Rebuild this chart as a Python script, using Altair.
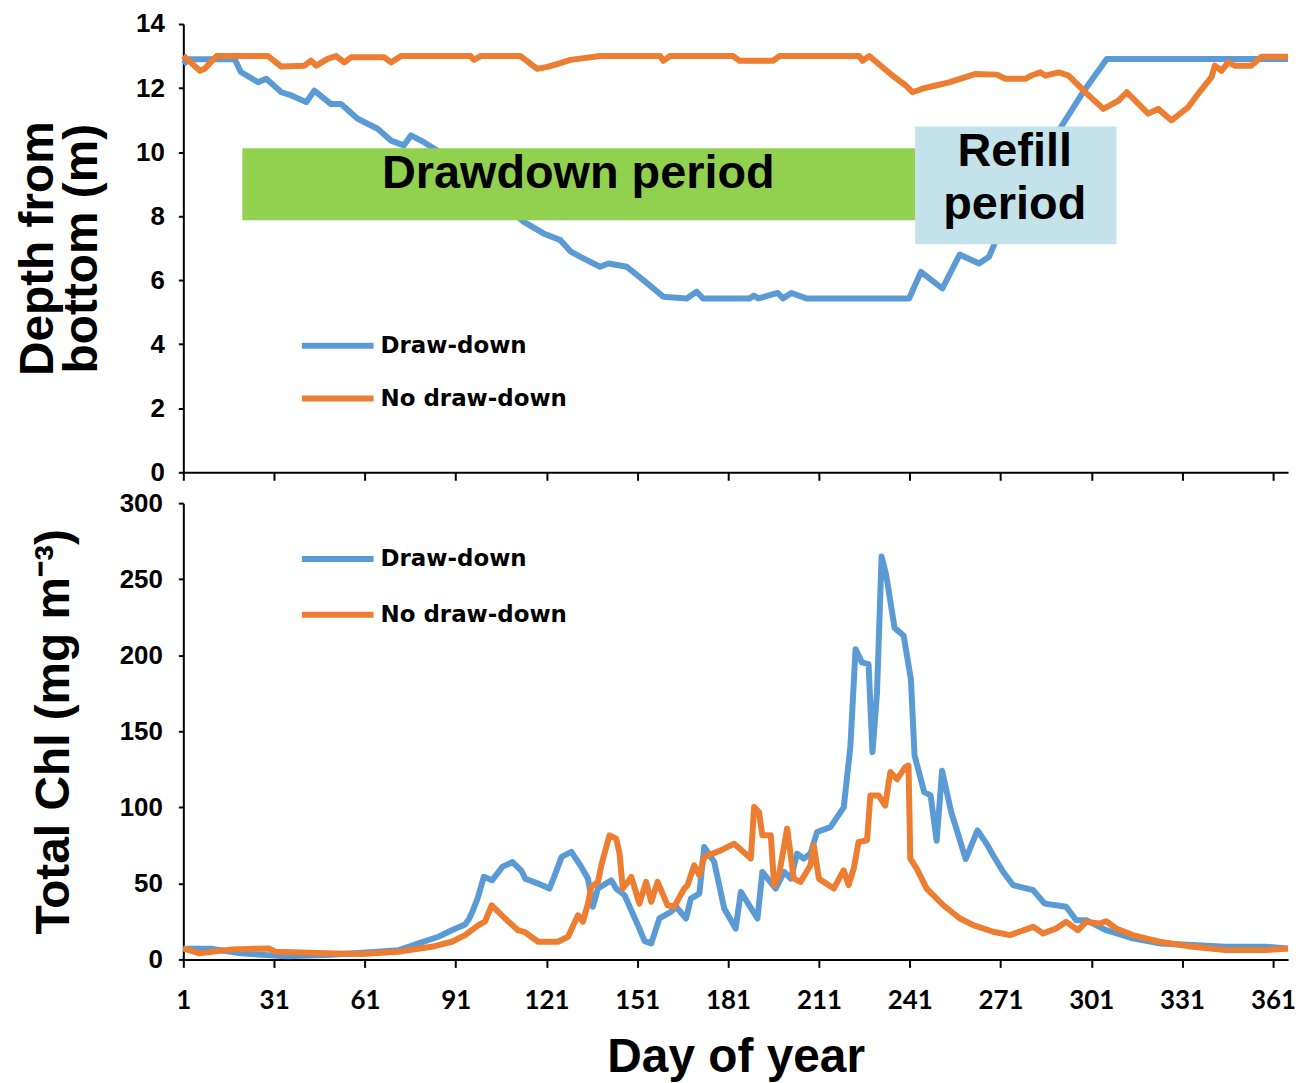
import altair as alt
import pandas as pd

SERIES = ["Draw-down", "No draw-down"]
COLORS = ["#5B9BD5", "#ED7D31"]
X_TICKS = [1, 31, 61, 91, 121, 151, 181, 211, 241, 271, 301, 331, 361]

# ---- Depth from bottom (m) ----
depth_dd_day = [1, 3, 18, 20, 25.7, 28.4, 33.4, 36.7, 41.6, 44.3, 49.8, 53.1, 58.6, 65.2, 69.6, 73.9,
                76.2, 80.5, 84.9, 92, 100, 107, 113.5, 120, 125.6, 128.9, 132.2, 138.7, 141.5, 147.5,
                153, 159.6, 167.3, 170.6, 172.7, 188.1, 189.5, 191, 197.4, 199.1, 201.9, 206.8, 240.8,
                244.7, 251.8, 257.5, 263.9, 267.2, 270.5, 277, 284, 291.3, 297.9, 306.1, 366]
depth_dd = [12.75, 12.9, 12.9, 12.5, 12.18, 12.29, 11.87, 11.77, 11.56, 11.92, 11.5, 11.5, 11.04, 10.73,
            10.36, 10.21, 10.52, 10.31, 10.05, 9.6, 9.0, 8.35, 7.82, 7.46, 7.25, 6.9, 6.73, 6.42, 6.52,
            6.42, 6.0, 5.48, 5.43, 5.64, 5.43, 5.43, 5.52, 5.43, 5.6, 5.43, 5.6, 5.43, 5.43,
            6.26, 5.74, 6.8, 6.52, 6.73, 7.47, 8.5, 9.7, 10.83, 11.82, 12.91, 12.91]

depth_nd_day = [1, 6.5, 8, 12, 29, 33.4, 41, 43.2, 44.9, 48.7, 51.5, 54.2, 56.4, 67.4, 69.6, 72.9, 95.9,
                97, 99.2, 112.4, 117.9, 121.2, 124.5, 128.9, 138.7, 158.5, 159.6, 161.8, 182.6, 184.8,
                195.8, 198, 224.3, 225.4, 227.6, 235.3, 239.7, 241.9, 245.2, 249.6, 254, 262.8, 269.8,
                272.6, 279.2, 281.4, 284.2, 285.8, 290.2, 293.5, 299, 305, 310, 312.7, 319.8, 323.1,
                327.5, 333, 336.3, 340.7, 341.8, 344, 346.2, 348.4, 353.9, 357.2, 366]
depth_nd = [13.01, 12.54, 12.6, 13.0, 13.0, 12.67, 12.7, 12.86, 12.7, 12.91, 13.0, 12.8, 12.96, 12.96,
            12.8, 13.0, 13.0, 12.88, 13.0, 13.0, 12.6, 12.66, 12.75, 12.88, 13.0, 13.0, 12.85, 13.0,
            13.0, 12.85, 12.85, 13.0, 13.0, 12.85, 13.0, 12.39, 12.08, 11.87, 11.98, 12.08, 12.18,
            12.44, 12.42, 12.29, 12.29, 12.4, 12.49, 12.39, 12.49, 12.39, 11.87, 11.35, 11.61, 11.87,
            11.2, 11.35, 10.99, 11.4, 11.82, 12.34, 12.7, 12.54, 12.8, 12.7, 12.7, 12.98, 12.98]

# ---- Total Chl (mg m-3) ----
chl_dd_day = [1, 10, 20, 35, 50, 65, 72, 78.7, 85.3, 89.7, 94.1, 95.5, 96.5, 98.2, 100.3, 103, 106.5,
              109.8, 112.8, 114, 118, 122, 123.7, 126, 129.2, 132.5, 134.7, 136.3, 138, 142.4, 144,
              146.8, 151.2, 153.4, 155.6, 158.3, 162.1, 163.8, 167.1, 168.7, 171.5, 173.1, 176.4,
              179.7, 183.5, 185.2, 190.7, 192.3, 196.7, 199.5, 201.7, 203.8, 206, 208.2, 210.4, 214.8,
              219.2, 221.4, 223.1, 225.2, 227.4, 228.7, 230.2, 231.7, 233.2, 236, 239, 241.4, 242.6,
              245.8, 247.9, 249.9, 251.7, 254.7, 259.5, 263.4, 266.4, 268.6, 271.9, 275.2, 281.8,
              285.6, 292.7, 296, 299.3, 305.9, 314.7, 323.5, 334.5, 345.4, 358.6, 366]
chl_dd = [7, 7, 4, 2, 3, 5, 6, 10.5, 14.9, 19.2, 23, 27, 31.3, 40, 54.3, 52, 61, 64, 58, 53, 50, 46.6,
          55.3, 67.4, 70.7, 60.8, 53.1, 34.6, 46.6, 52, 46.6, 42.2, 22.5, 12, 10.5, 27, 31.3, 34.6,
          26.9, 40, 43.3, 73.9, 64.1, 33.5, 20.3, 44.4, 26.9, 57.5, 46.6, 57.5, 53.1, 69.6, 66.3,
          69.6, 83.8, 87, 100, 140, 204, 195.3, 194.2, 136.3, 175.7, 265, 253, 218, 212.8, 184, 134,
          110, 107.8, 78, 124, 97, 66, 84.8, 76, 68.4, 57.5, 48.8, 45.5, 36.7, 34.6, 25.8, 25.8,
          19.2, 13.8, 10.5, 9.4, 8.3, 8.3, 7.2]

chl_nd_day = [1, 6.3, 17.3, 29.3, 31.5, 48, 60, 72, 83, 89.7, 94.1, 98.5, 100.7, 102.9, 107.3, 111.6,
              113.8, 118.2, 124.8, 128.1, 131.4, 133, 134.7, 135.8, 138, 139.1, 141.8, 144, 145.1,
              146.2, 147.9, 149, 151.7, 153.9, 155.6, 157.7, 161, 163.2, 166.5, 167.6, 169.8, 171.5,
              173.1, 178.6, 183, 188.5, 189.6, 191.2, 192.3, 195.1, 196.2, 197.8, 200.5, 202.7, 204.9,
              208.2, 209.3, 211, 215.9, 219.2, 220.8, 222.5, 224.1, 226.9, 228, 230.7, 232.9, 234.6,
              236.8, 239.5, 240.6, 241.2, 243.3, 246.6, 252.1, 257.6, 262, 268.6, 274.1, 281.8, 285.1,
              289.4, 292.7, 296.6, 299.3, 303.7, 305.9, 309.2, 314.7, 323.5, 334.5, 345.4, 358.6, 366]
chl_nd = [7.2, 4, 6.6, 7.2, 5, 4, 3.5, 5, 8.3, 11.6, 16, 22.5, 25, 35.6, 26.9, 19.2, 18, 11.6, 11.6,
          14.9, 29, 24.7, 36.7, 47.7, 51, 61.9, 81.6, 79.4, 70, 46.6, 51, 54.3, 36.7, 51, 37.9, 51,
          35.6, 34.6, 46.6, 48.8, 61.9, 55.3, 67.4, 71.7, 76.1, 66.3, 100.2, 96.9, 81.6, 81.6, 48.8,
          55.3, 86, 53.1, 51, 61.9, 75, 53.1, 46.6, 58.6, 48.8, 59.7, 77.2, 78.3, 107.8, 107.8, 101.2,
          123.2, 118.4, 126.4, 127.5, 66.3, 59.7, 46.6, 35.6, 26.9, 22.5, 18.2, 16, 21.4, 17.1, 20.3,
          24.7, 19.2, 24.7, 23.6, 25.1, 20.3, 16, 11.6, 8.3, 6.1, 6.1, 7.2]

# ---- annotation boxes (day range, depth range) ----
period_labels = ["Drawdown period", "Refill\nperiod"]
period_day_start = [20.5, 242.8]
period_day_end = [242.8, 309.3]
period_depth_low = [7.87, 7.12]
period_depth_high = [10.12, 10.8]
period_label_day = [131.5, 275.7]
period_label_depth = [9.3, 10.0]
period_fill = ["#92D050", "#C4E2E9"]


def frame(days, vals, name):
    return pd.DataFrame({"day": days, "v": vals, "series": name})


depth_df = pd.concat([frame(depth_dd_day, depth_dd, SERIES[0]),
                      frame(depth_nd_day, depth_nd, SERIES[1])], ignore_index=True)
chl_df = pd.concat([frame(chl_dd_day, chl_dd, SERIES[0]),
                    frame(chl_nd_day, chl_nd, SERIES[1])], ignore_index=True)
box_df = pd.DataFrame({"day": period_day_start, "day2": period_day_end,
                       "v": period_depth_low, "v2": period_depth_high, "fill": period_fill})
lab_df = pd.DataFrame({"day": period_label_day, "v": period_label_depth, "label": period_labels})

LABEL_FONT = "Liberation Sans"
TITLE_FONT = "Liberation Sans"

xscale = alt.Scale(domain=[1, 366], nice=False, zero=False)


def x_top():
    return alt.X("day:Q", scale=xscale,
                 axis=alt.Axis(values=X_TICKS, labels=False, title=None, tickSize=8))


def y_top():
    return alt.Y("v:Q", scale=alt.Scale(domain=[0, 14], nice=False),
                 axis=alt.Axis(values=list(range(0, 15, 2)), title=["Depth from", "bottom (m)"],
                               labelFont=LABEL_FONT, labelFontWeight="bold", labelFontSize=26,
                               labelPadding=14, labelFlush=False,
                               titleFont=TITLE_FONT, titleFontWeight="bold", titleFontSize=48,
                               titleLineHeight=44, titlePadding=29))


def legend(ly, rowpad):
    return alt.Legend(title=None, orient="none", legendX=116, legendY=ly, direction="vertical",
                      symbolType="stroke", symbolSize=5184, symbolStrokeWidth=6,
                      labelFont="DejaVu Sans", labelFontWeight="bold", labelFontSize=23,
                      labelColor="black", labelOffset=4, labelLimit=0, rowPadding=rowpad,
                      padding=0)


color_scale = alt.Scale(domain=SERIES, range=COLORS)

top_lines = alt.Chart(depth_df).mark_line(strokeWidth=6, strokeJoin="round").encode(
    x=x_top(), y=y_top(),
    color=alt.Color("series:N", scale=color_scale, legend=legend(284, 2)),
)
top_boxes = alt.Chart(box_df).mark_rect().encode(
    x=x_top(), x2="day2:Q", y=y_top(), y2="v2:Q",
    fill=alt.Fill("fill:N", scale=None),
)
top_text = alt.Chart(lab_df).mark_text(font=TITLE_FONT, fontWeight="bold", fontSize=47,
                                       lineBreak="\n", lineHeight=53, baseline="middle",
                                       align="center", color="black").encode(
    x=x_top(), y=y_top(), text="label:N",
)
top = alt.layer(top_lines, top_boxes, top_text).properties(width=1109, height=450)

bottom = alt.Chart(chl_df).mark_line(strokeWidth=6, strokeJoin="round").encode(
    x=alt.X("day:Q", scale=xscale,
            axis=alt.Axis(values=X_TICKS, title="Day of year", tickSize=8, labelFlush=False,
                          labelFont="Lato", labelFontWeight="bold", labelFontSize=26,
                          labelPadding=20, titleFont=TITLE_FONT, titleFontWeight="bold",
                          titleFontSize=48, titlePadding=21)),
    y=alt.Y("v:Q", scale=alt.Scale(domain=[0, 300], nice=False),
            axis=alt.Axis(values=list(range(0, 301, 50)), title="Total Chl (mg m\u207b\u00b3)",
                          labelFont=LABEL_FONT, labelFontWeight="bold", labelFontSize=26,
                          labelPadding=16, labelFlush=False,
                          titleFont=TITLE_FONT, titleFontWeight="bold", titleFontSize=48,
                          titlePadding=41)),
    color=alt.Color("series:N", scale=color_scale, legend=legend(17, 5)),
).properties(width=1109, height=458)

chart = alt.vconcat(top, bottom, spacing=5).resolve_scale(color="independent").configure_view(
    stroke=None
).configure_axis(
    grid=False, domainColor="black", domainWidth=2, tickColor="black", tickWidth=2,
    labelColor="black", titleColor="black"
).properties(padding={"left": 7, "top": 1, "right": 5, "bottom": 2})

chart.save("out.html", embed_options={"renderer": "svg", "actions": False})
